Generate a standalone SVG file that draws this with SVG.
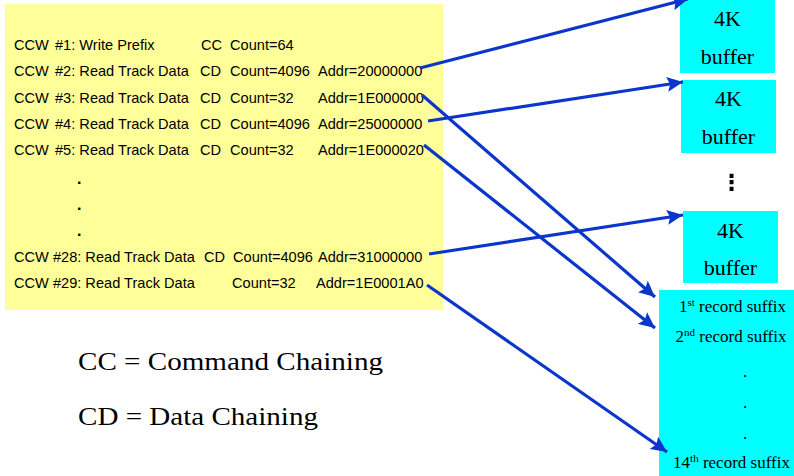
<svg xmlns="http://www.w3.org/2000/svg" width="794" height="476" viewBox="0 0 794 476">
<defs>
<style>
.ccw{font-family:"Liberation Sans",Arial,sans-serif;font-size:14.6px;fill:#000}
.dot{font-family:"Liberation Sans",Arial,sans-serif;font-size:16px;font-weight:bold;fill:#000}
.buf{font-family:"Liberation Serif","Times New Roman",serif;font-size:22px;fill:#000;text-anchor:middle}
.suf{font-family:"Liberation Serif","Times New Roman",serif;font-size:17px;fill:#000;text-anchor:middle}
.sup{font-size:11px}
.leg{font-family:"Liberation Serif","Times New Roman",serif;font-size:26px;fill:#000}
.cyan{fill:#00FFFF}
.arr{stroke:#0B36CC;stroke-width:3.2;fill:none;marker-end:url(#ah)}
</style>
<marker id="ah" markerUnits="userSpaceOnUse" markerWidth="17" markerHeight="15" refX="16" refY="7.5" orient="auto">
<path d="M0,0 L16,7.5 L0,15 L3,7.5 z" fill="#0B36CC"/>
</marker>
</defs>
<rect width="794" height="476" fill="#FFFFFF"/>
<g id="ccw-list">
<rect x="5" y="4" width="438" height="306" fill="#FFFF99"/>
<text class="ccw" y="50"><tspan x="14">CCW</tspan><tspan x="55">#1: Write Prefix</tspan><tspan x="201">CC</tspan><tspan x="230">Count=64</tspan></text>
<text class="ccw" y="76"><tspan x="14">CCW</tspan><tspan x="55">#2: Read Track Data</tspan><tspan x="200">CD</tspan><tspan x="230">Count=4096</tspan><tspan x="318">Addr=20000000</tspan></text>
<text class="ccw" y="103"><tspan x="14">CCW</tspan><tspan x="55">#3: Read Track Data</tspan><tspan x="200">CD</tspan><tspan x="230">Count=32</tspan><tspan x="318">Addr=1E000000</tspan></text>
<text class="ccw" y="129"><tspan x="14">CCW</tspan><tspan x="55">#4: Read Track Data</tspan><tspan x="200">CD</tspan><tspan x="230">Count=4096</tspan><tspan x="318">Addr=25000000</tspan></text>
<text class="ccw" y="155"><tspan x="14">CCW</tspan><tspan x="55">#5: Read Track Data</tspan><tspan x="200">CD</tspan><tspan x="230">Count=32</tspan><tspan x="318">Addr=1E000020</tspan></text>
<text class="dot" x="77" y="184">.</text>
<text class="dot" x="77" y="210">.</text>
<text class="dot" x="77" y="236">.</text>
<text class="ccw" y="262"><tspan x="14">CCW #28: Read Track Data</tspan><tspan x="204">CD</tspan><tspan x="233">Count=4096</tspan><tspan x="318">Addr=31000000</tspan></text>
<text class="ccw" y="288"><tspan x="14">CCW #29: Read Track Data</tspan><tspan x="232">Count=32</tspan><tspan x="316">Addr=1E0001A0</tspan></text>
</g>
<g id="buffer1">
<rect class="cyan" x="680" y="0" width="95" height="73"/>
<text class="buf" x="727.5" y="26">4K</text>
<text class="buf" x="727.5" y="64">buffer</text>
</g>
<g id="buffer2">
<rect class="cyan" x="681" y="80" width="95" height="73"/>
<text class="buf" x="728.5" y="106">4K</text>
<text class="buf" x="728.5" y="144">buffer</text>
</g>
<g id="ellipsis">
<text x="731.5" y="190" style="font-family:'DejaVu Sans',sans-serif;font-size:22px;font-weight:bold;text-anchor:middle">⋮</text>
</g>
<g id="buffer3">
<rect class="cyan" x="683" y="211" width="95" height="72"/>
<text class="buf" x="730.5" y="238">4K</text>
<text class="buf" x="730.5" y="275">buffer</text>
</g>
<g id="suffixes">
<rect class="cyan" x="659" y="290" width="135" height="186"/>
<text class="suf" x="732.5" y="312">1<tspan class="sup" dy="-6">st</tspan><tspan dy="6"> record suffix</tspan></text>
<text class="suf" x="731" y="342">2<tspan class="sup" dy="-6">nd</tspan><tspan dy="6"> record suffix</tspan></text>
<text class="suf" x="745" y="377">.</text>
<text class="suf" x="745" y="408">.</text>
<text class="suf" x="745" y="439">.</text>
<text class="suf" x="731.5" y="468">14<tspan class="sup" dy="-6">th</tspan><tspan dy="6"> record suffix</tspan></text>
</g>
<g id="legend">
<text class="leg" x="78" y="370" textLength="305" lengthAdjust="spacingAndGlyphs">CC = Command Chaining</text>
<text class="leg" x="78" y="425" textLength="240" lengthAdjust="spacingAndGlyphs">CD = Data Chaining</text>
</g>
<g id="connectors">
<line class="arr" x1="420" y1="68" x2="688" y2="-1"/>
<line class="arr" x1="422" y1="95" x2="655" y2="297"/>
<line class="arr" x1="428" y1="121" x2="683" y2="82"/>
<line class="arr" x1="424" y1="145" x2="655" y2="328"/>
<line class="arr" x1="429" y1="254" x2="683" y2="215"/>
<line class="arr" x1="427" y1="285" x2="667" y2="452"/>
</g>
</svg>
